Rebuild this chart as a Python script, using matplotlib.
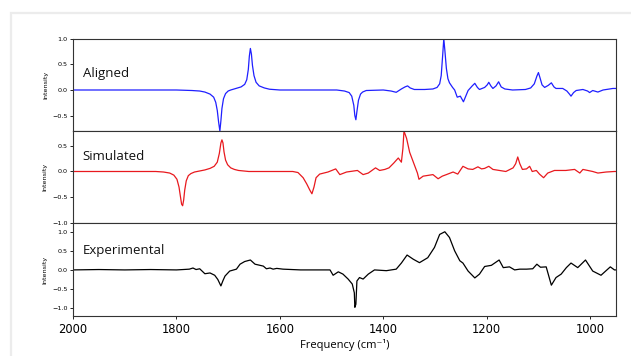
import numpy as np
import matplotlib
matplotlib.use("Agg")
import matplotlib.pyplot as plt
from matplotlib.patches import Rectangle


# =========================
# Data (frequency in cm^-1, intensity)
# =========================

ALIGNED_FREQ = [2000, 1800, 1770, 1755, 1745, 1735, 1728, 1724, 1721, 1718.5, 1716,
                1714, 1712, 1709, 1705, 1700, 1695, 1685, 1675, 1668, 1664, 1661,
                1659, 1657, 1655, 1653, 1650, 1646, 1640, 1630, 1620, 1600,
                1490, 1475, 1466, 1461, 1457, 1455, 1453, 1451, 1448, 1444,
                1440, 1433, 1400, 1385, 1375, 1365, 1358, 1353, 1348, 1340,
                1320, 1304, 1296, 1291, 1288, 1285, 1283, 1281, 1278, 1275,
                1272, 1266, 1262, 1257, 1251, 1245, 1236, 1228, 1223, 1218,
                1214, 1204, 1199, 1196, 1192, 1188, 1182, 1177, 1172, 1165,
                1150, 1125, 1115, 1108, 1103, 1100, 1097, 1093, 1088, 1081,
                1075, 1070, 1066, 1053, 1045, 1040, 1037, 1032, 1027, 1014,
                1005, 1001, 995, 985, 975, 956, 950]
ALIGNED_INT = [0.0, 0.0, -0.01, -0.02, -0.04, -0.08, -0.14, -0.24, -0.40, -0.62, -0.80,
               -0.60, -0.36, -0.17, -0.07, -0.02, 0.0, 0.03, 0.06, 0.11, 0.20, 0.40,
               0.66, 0.81, 0.70, 0.48, 0.28, 0.15, 0.08, 0.04, 0.015, 0.0,
               0.0, -0.02, -0.05, -0.12, -0.30, -0.50, -0.58, -0.42, -0.20, -0.08,
               -0.04, -0.01, 0.0, -0.02, -0.045, 0.02, 0.06, 0.08, 0.04, 0.01,
               0.01, 0.02, 0.05, 0.12, 0.28, 0.70, 1.0, 0.78, 0.42, 0.22,
               0.14, 0.05, 0.0, -0.14, -0.12, -0.23, -0.01, 0.08, 0.13, 0.05,
               0.01, 0.05, 0.10, 0.15, 0.08, 0.03, 0.08, 0.16, 0.06, 0.02,
               0.0, 0.01, 0.04, 0.12, 0.27, 0.34, 0.24, 0.10, 0.05, 0.09,
               0.14, 0.06, 0.03, 0.03, -0.02, -0.08, -0.12, -0.05, -0.01, 0.01,
               -0.02, -0.05, -0.01, -0.04, 0.0, 0.03, 0.03]

SIMULATED_FREQ = [2000, 1840, 1825, 1813, 1805, 1799, 1795, 1792, 1790, 1788, 1786,
                  1784, 1781, 1777, 1772, 1765, 1755, 1745, 1735, 1727, 1721, 1717,
                  1714, 1712, 1710, 1708, 1705, 1701, 1695, 1688, 1680, 1660,
                  1600, 1575, 1565, 1555, 1548, 1542, 1538, 1534, 1530, 1523,
                  1507, 1492, 1484, 1471, 1450, 1439, 1429, 1415, 1407, 1397,
                  1389, 1380, 1371, 1365, 1362, 1360, 1355, 1349, 1340, 1334,
                  1331, 1323, 1304, 1294, 1286, 1278, 1265, 1256, 1246, 1236,
                  1227, 1217, 1210, 1204, 1196, 1188, 1163, 1149, 1144, 1140,
                  1136, 1131, 1123, 1117, 1112, 1104, 1098, 1090, 1082, 1069,
                  1047, 1030, 1020, 1014, 995, 985, 969, 953, 950]
SIMULATED_INT = [0.0, 0.0, -0.01, -0.03, -0.07, -0.15, -0.30, -0.50, -0.63, -0.66, -0.55,
                 -0.36, -0.18, -0.08, -0.04, -0.01, 0.01, 0.03, 0.06, 0.10, 0.18, 0.35,
                 0.55, 0.61, 0.55, 0.38, 0.22, 0.13, 0.07, 0.04, 0.02, 0.0,
                 0.0, 0.0, -0.02, -0.12, -0.24, -0.36, -0.43, -0.30, -0.12, -0.05,
                 -0.01, 0.05, -0.06, -0.01, 0.02, -0.06, -0.03, 0.07, 0.02, 0.04,
                 0.07, 0.16, 0.26, 0.18, 0.45, 0.78, 0.64, 0.37, 0.13, -0.03,
                 -0.15, -0.09, -0.06, -0.14, -0.09, -0.06, -0.01, -0.05, 0.10, 0.05,
                 0.04, 0.09, 0.05, 0.06, 0.10, 0.04, 0.0, 0.07, 0.15, 0.28,
                 0.15, 0.04, 0.05, 0.10, 0.0, 0.02, -0.05, -0.12, -0.03, 0.02,
                 0.02, 0.04, -0.03, 0.04, 0.0, -0.03, -0.01, 0.0, 0.0]

EXPERIMENTAL_FREQ = [2000, 1950, 1900, 1850, 1800, 1787, 1775, 1768, 1762, 1755,
                     1745, 1735, 1726, 1720, 1714, 1710, 1706, 1697, 1684, 1677,
                     1668, 1657, 1648, 1632, 1626, 1619, 1613, 1606, 1594, 1560,
                     1503, 1497, 1487, 1478, 1468, 1460, 1456, 1455, 1453, 1451,
                     1446, 1439, 1429, 1417, 1394, 1375, 1365, 1354, 1342, 1330,
                     1314, 1301, 1291, 1281, 1272, 1262, 1252, 1246, 1236, 1223,
                     1214, 1204, 1191, 1176, 1168, 1156, 1146, 1136, 1123, 1111,
                     1103, 1096, 1085, 1075, 1066, 1056, 1046, 1037, 1024, 1009,
                     995, 979, 961, 953, 950]
EXPERIMENTAL_INT = [0.0, 0.01, 0.0, 0.01, 0.0, 0.01, 0.02, 0.05, 0.01, 0.03,
                    -0.10, -0.08, -0.14, -0.25, -0.42, -0.28, -0.16, -0.03, 0.02, 0.15,
                    0.22, 0.26, 0.15, 0.10, 0.03, 0.05, 0.02, 0.04, 0.02, 0.0,
                    0.0, -0.14, -0.05, -0.11, -0.24, -0.37, -0.60, -0.98, -0.90, -0.29,
                    -0.20, -0.24, -0.11, 0.0, -0.02, 0.02, 0.18, 0.39, 0.28, 0.19,
                    0.32, 0.59, 0.93, 1.0, 0.85, 0.50, 0.24, 0.18, -0.03, -0.21,
                    -0.11, 0.09, 0.12, 0.26, 0.06, 0.08, 0.0, 0.02, 0.02, 0.03,
                    0.15, 0.07, 0.08, -0.40, -0.20, -0.11, 0.06, 0.18, 0.06, 0.26,
                    -0.03, -0.14, 0.08, 0.0, 0.0]

PANELS = [
    ("Aligned", ALIGNED_FREQ, ALIGNED_INT, "#1f1fff", (-0.8, 1.0), [-0.5, 0.0, 0.5, 1.0], 0.625),
    ("Simulated", SIMULATED_FREQ, SIMULATED_INT, "#e8191e", (-1.0, 0.78), [-1.0, -0.5, 0.0, 0.5], 0.72),
    ("Experimental", EXPERIMENTAL_FREQ, EXPERIMENTAL_INT, "black", (-1.2, 1.22), [-1.0, -0.5, 0.0, 0.5, 1.0], 0.705),
]

XTICKS = [2000, 1800, 1600, 1400, 1200, 1000]


def main():
    fig = plt.figure(figsize=(6.31, 3.56), dpi=100)

    # light page frame around the figure
    fig.patches.append(Rectangle((11 / 631, -0.1), 1.2, 1.1 - 13 / 356,
                                 transform=fig.transFigure, fill=False,
                                 edgecolor="#ececec", linewidth=1.6))

    left, right = 73 / 631, 616 / 631
    top, bottom = 1 - 38.7 / 356, 1 - 315.7 / 356
    h = (top - bottom) / 3

    axes = []
    for i, (name, freq, inten, color, ylim, yticks, ty) in enumerate(PANELS):
        ax = fig.add_axes([left, top - (i + 1) * h, right - left, h],
                          sharex=axes[0] if axes else None)
        ax.plot(freq, inten, color=color, linewidth=0.9)
        ax.set_ylim(*ylim)
        ax.set_yticks(yticks)
        ax.tick_params(axis="y", labelsize=4.6, length=2.5, width=0.6, pad=1.5)
        ax.tick_params(axis="x", length=2.5, width=0.6)
        ax.set_ylabel("Intensity", fontsize=4.6, labelpad=3)
        for sp in ax.spines.values():
            sp.set_linewidth(0.8)
            sp.set_color("#333333")
        ax.text(0.018, ty, name, transform=ax.transAxes, fontsize=9.5,
                family="Open Sans", va="center", ha="left", color="#111111")
        if i < 2:
            ax.tick_params(axis="x", labelbottom=False)
        axes.append(ax)

    axes[0].set_xlim(2000, 950)
    axes[0].set_xticks(XTICKS)
    axes[-1].tick_params(axis="x", labelsize=8.3, pad=3)
    axes[-1].set_xlabel("Frequency (cm\u207b\u00b9)", fontsize=8,
                        family=["Open Sans", "DejaVu Sans"], labelpad=2)

    fig.savefig("out.png", dpi=100)


if __name__ == "__main__":
    main()
